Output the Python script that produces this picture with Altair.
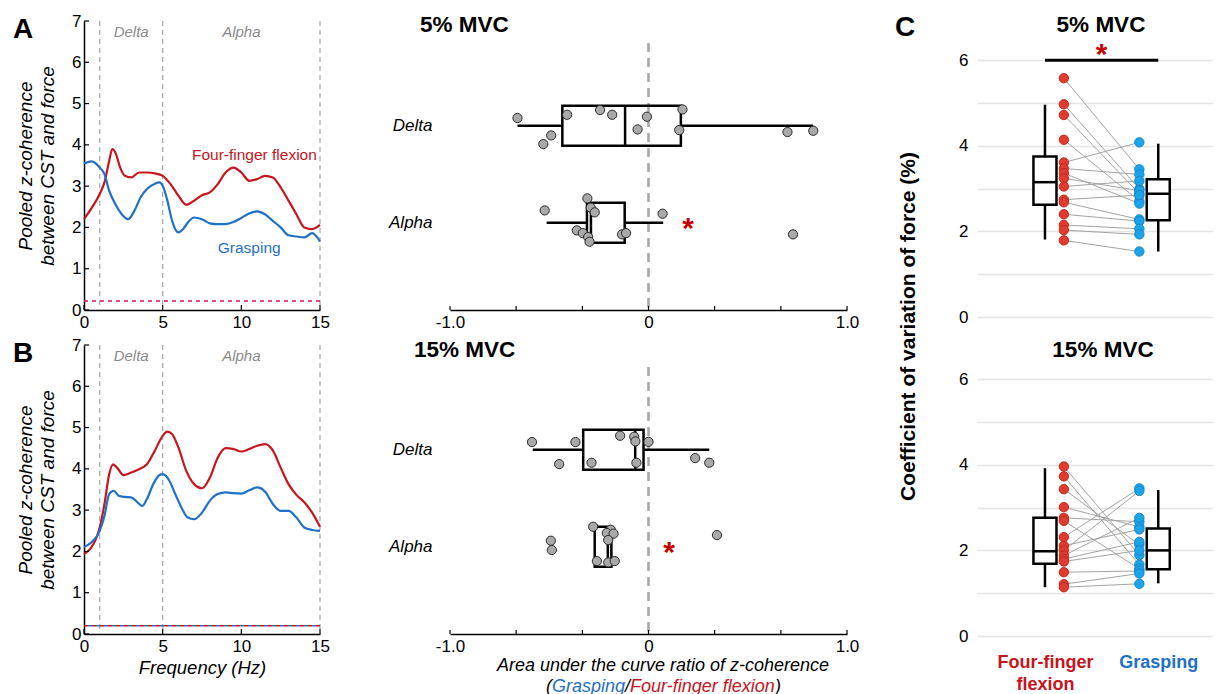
import altair as alt
import pandas as pd

FONT = "Liberation Sans"
RED = "#c8141c"
BLUE = "#1f70c8"
RED_TXT = "#c40000"
DOT_RED = "#e23b2e"
DOT_RED_EDGE = "#c0281f"
DOT_BLUE = "#1ba4ea"
DOT_BLUE_EDGE = "#1686cc"

# ---------------- Panel A (5% MVC) spectra ----------------
a_ff_freq = [0, 0.5, 1, 1.3, 1.6, 1.8, 2.0, 2.3, 2.6, 3.0, 3.5, 4.0, 4.5, 5.0, 5.5, 6.0, 6.5, 7.0, 7.5,
             8.0, 8.5, 9.0, 9.5, 10, 10.5, 11, 11.5, 12, 12.5, 13, 13.5, 14, 14.5, 15]
a_ff_coh = [2.20, 2.48, 2.81, 3.09, 3.61, 3.90, 3.81, 3.45, 3.25, 3.21, 3.33, 3.33, 3.31, 3.25, 3.05,
            2.77, 2.55, 2.65, 2.78, 2.85, 3.05, 3.33, 3.45, 3.33, 3.13, 3.17, 3.25, 3.21, 2.97, 2.65,
            2.32, 2.00, 1.96, 2.06]
a_gr_freq = [0, 0.5, 1.0, 1.3, 1.6, 2.0, 2.4, 2.8, 3.2, 3.6, 4.0, 4.5, 4.8, 5.0, 5.3, 5.6, 6.0, 6.3,
             6.6, 7.0, 7.5, 8.0, 8.5, 9.0, 9.5, 10, 10.5, 11, 11.5, 12, 12.5, 13, 13.5, 14, 14.5, 15]
a_gr_coh = [3.55, 3.60, 3.45, 3.29, 2.89, 2.56, 2.32, 2.20, 2.40, 2.73, 2.93, 3.06, 3.09, 3.01, 2.65,
            2.16, 1.88, 1.96, 2.12, 2.24, 2.20, 2.10, 2.08, 2.08, 2.13, 2.23, 2.34, 2.39, 2.32, 2.16,
            2.00, 1.81, 1.78, 1.76, 1.86, 1.66]

# ---------------- Panel B (15% MVC) spectra ----------------
b_ff_freq = [0, 0.4, 0.8, 1.0, 1.3, 1.6, 1.85, 2.1, 2.5, 3.0, 3.5, 4.0, 4.5, 5.0, 5.3, 5.6, 6.0, 6.5,
             7.0, 7.5, 8.0, 8.5, 9.0, 9.5, 10, 10.5, 11, 11.5, 12, 12.5, 13, 13.5, 14, 14.5, 15]
b_ff_coh = [1.94, 2.06, 2.34, 2.58, 3.15, 3.87, 4.11, 4.03, 3.85, 3.91, 3.99, 4.11, 4.44, 4.80, 4.90,
            4.84, 4.52, 3.95, 3.63, 3.53, 3.79, 4.27, 4.50, 4.48, 4.42, 4.48, 4.56, 4.60, 4.45, 4.03,
            3.63, 3.37, 3.19, 2.94, 2.60]
b_gr_freq = [0, 0.5, 1.0, 1.3, 1.6, 1.9, 2.2, 2.6, 3.0, 3.4, 3.7, 4.0, 4.4, 4.8, 5.0, 5.4, 5.8, 6.2,
             6.6, 7.0, 7.5, 8.0, 8.5, 9.0, 9.5, 10, 10.5, 11, 11.5, 12, 12.5, 13, 13.5, 14, 14.5, 15]
b_gr_coh = [2.11, 2.23, 2.50, 2.86, 3.39, 3.47, 3.35, 3.32, 3.31, 3.19, 3.10, 3.27, 3.63, 3.85, 3.87,
            3.73, 3.39, 3.06, 2.82, 2.78, 2.94, 3.23, 3.39, 3.43, 3.41, 3.40, 3.48, 3.55, 3.45, 3.15,
            2.98, 2.98, 2.82, 2.58, 2.52, 2.50]

spec_xticks = [0, 5, 10, 15]
spec_yticks = [0, 1, 2, 3, 4, 5, 6, 7]
band_edges = [1, 5, 15]
band_names = ["Delta", "Alpha"]
a_threshold = 0.22
b_threshold = 0.20

# ---------------- Middle: AUC ratio (Grasping / Four-finger flexion) ----------------
mid5_delta_x = [-0.66, -0.41, -0.244, -0.183, -0.008, 0.171, -0.055, 0.155, -0.49, -0.53, 0.70, 0.83]
mid5_delta_j = [0.079, 0.113, 0.162, 0.113, 0.093, 0.168, -0.038, -0.045, -0.100, -0.189, -0.065, -0.052]
mid5_alpha_x = [-0.308, -0.291, -0.271, -0.523, 0.071, -0.361, -0.331, -0.304, -0.297, -0.133, -0.113, 0.728]
mid5_alpha_j = [0.251, 0.155, 0.107, 0.127, 0.093, -0.079, -0.107, -0.148, -0.196, -0.120, -0.107, -0.120]
mid5_lo = [-0.66, -0.513]
mid5_q1 = [-0.434, -0.31]
mid5_med = [-0.118, -0.29]
mid5_q3 = [0.163, -0.12]
mid5_hi = [0.83, 0.074]
mid5_star = 0.20

mid15_delta_x = [-0.587, -0.368, -0.143, -0.072, -0.066, 0.0, -0.45, -0.287, -0.061, 0.235, 0.306]
mid15_delta_j = [0.079, 0.079, 0.144, 0.134, 0.086, 0.082, -0.148, -0.134, -0.134, -0.086, -0.134]
mid15_alpha_x = [-0.279, -0.190, -0.210, -0.176, -0.203, -0.492, -0.487, -0.260, -0.203, -0.170, 0.345]
mid15_alpha_j = [0.206, 0.175, 0.141, 0.134, 0.069, 0.062, -0.034, -0.148, -0.162, -0.148, 0.120]
mid15_lo = [-0.583, -0.271]
mid15_q1 = [-0.329, -0.271]
mid15_med = [-0.067, -0.205]
mid15_q3 = [-0.025, -0.187]
mid15_hi = [0.306, -0.187]
mid15_star = 0.104

mid_tick_values = [-1.0, -0.667, -0.333, 0.0, 0.333, 0.667, 1.0]
mid_label_values = [-1.0, 0.0, 1.0]
mid_label_texts = ["-1.0", "0", "1.0"]

# ---------------- Panel C: coefficient of variation of force ----------------
cv_tasks = ["Four-finger flexion", "Grasping"]
cv_label_lines = [["Four-finger", "flexion"], ["Grasping"]]
c5_ff = [5.58, 4.97, 4.72, 4.14, 3.61, 3.47, 3.36, 3.24, 3.05, 2.74, 2.68, 2.40, 2.15, 2.03, 1.79]
c5_gr = [3.45, 2.99, 2.88, 2.71, 4.08, 3.33, 2.65, 2.95, 3.18, 2.85, 2.28, 2.24, 2.06, 1.93, 1.53]
c5_ff_box = [1.81, 2.62, 3.15, 3.75, 4.96]   # whisker low, q1, median, q3, whisker high
c5_gr_box = [1.53, 2.26, 2.88, 3.22, 4.05]
c15_ff = [3.96, 3.73, 3.43, 3.01, 2.76, 2.69, 2.31, 2.11, 2.00, 1.88, 1.80, 1.74, 1.49, 1.21, 1.14]
c15_gr = [1.89, 1.67, 2.13, 2.55, 2.67, 1.57, 3.45, 2.49, 3.39, 2.76, 2.20, 2.00, 1.52, 1.46, 1.22]
c15_ff_box = [1.14, 1.69, 1.98, 2.76, 3.92]
c15_gr_box = [1.23, 1.56, 2.00, 2.51, 3.41]
cv_yticks = [0, 1, 2, 3, 4, 5, 6]
c5_sig_level = 6.0

DUMMY = pd.DataFrame({"t": [0]})


def text_at(txt, x, y, size, weight="normal", style="normal", color="black", align="left",
            baseline="alphabetic", angle=0):
    return alt.Chart(DUMMY).mark_text(
        text=txt, fontSize=size, fontWeight=weight, fontStyle=style, color=color,
        align=align, baseline=baseline, angle=angle
    ).encode(x=alt.value(x), y=alt.value(y))


def spectrum_panel(ff_f, ff_c, gr_f, gr_c, thresholds, letter, series_labels, xtitle):
    W, H = 236, 289
    xs = alt.Scale(domain=[0, 15], nice=False, zero=False)
    ys = alt.Scale(domain=[0, 7], nice=False, zero=False)
    xa = alt.Axis(values=spec_xticks, labelFontSize=17, labelPadding=4, ticks=False, grid=False,
                  domainColor="black", domainWidth=1.5, labelColor="black", labelFlush=False,
                  title=xtitle, titleFontSize=18.5, titleFontStyle="italic", titleFontWeight="normal",
                  titlePadding=4, titleColor="black")
    ya = alt.Axis(values=spec_yticks, labelFontSize=17, labelPadding=3, ticks=False, grid=False,
                  domainColor="black", domainWidth=1.5, labelColor="black", labelFlush=False,
                  title=["Pooled z-coherence", "between CST and force"], titleFontSize=19,
                  titleFontStyle="italic", titleFontWeight="normal", titlePadding=14,
                  titleLineHeight=22, titleColor="black")

    def X(f):
        return alt.X(f"{f}:Q", scale=xs, axis=xa)

    def Y(f):
        return alt.Y(f"{f}:Q", scale=ys, axis=ya)

    spec = pd.DataFrame({
        "freq": ff_f + gr_f,
        "coh": ff_c + gr_c,
        "task": [cv_tasks[0]] * len(ff_f) + [cv_tasks[1]] * len(gr_f),
    })
    layers = []
    layers.append(alt.Chart(pd.DataFrame({"edge": band_edges})).mark_rule(
        color="#a6a6a6", strokeDash=[5, 4], strokeWidth=1.2).encode(x=X("edge")))
    for val, col, off in thresholds:
        layers.append(alt.Chart(pd.DataFrame({"thr": [val]})).mark_rule(
            color=col, strokeDash=[4, 4], strokeDashOffset=off, strokeWidth=1.5).encode(y=Y("thr")))
    layers.append(alt.Chart(spec).mark_line(interpolate="monotone", strokeWidth=2.2).encode(
        x=X("freq"), y=Y("coh"),
        color=alt.Color("task:N", scale=alt.Scale(domain=cv_tasks, range=[RED, BLUE]), legend=None)))
    mids = [(band_edges[i] + band_edges[i + 1]) / 2 for i in range(len(band_names))]
    layers.append(alt.Chart(pd.DataFrame({"name": band_names, "mid": mids})).mark_text(
        fontStyle="italic", fontSize=15, color="#8a8a8a", baseline="alphabetic").encode(
        x=X("mid"), y=alt.value(16), text="name:N"))
    layers.append(alt.Chart(pd.DataFrame({"v": spec_yticks})).mark_rule(
        color="black", strokeWidth=1.2).encode(y=Y("v"), x=alt.value(0), x2=alt.value(5)))
    layers.append(alt.Chart(pd.DataFrame({"v": spec_xticks})).mark_rule(
        color="black", strokeWidth=1.2).encode(x=X("v"), y=alt.value(H - 5), y2=alt.value(H)))
    if series_labels:
        layers.append(alt.Chart(pd.DataFrame({"lx": [14.8], "ly": [3.76], "lab": [cv_tasks[0]]})).mark_text(
            fontSize=15.5, color=RED, align="right", baseline="middle").encode(
            x=X("lx"), y=Y("ly"), text="lab:N"))
        layers.append(alt.Chart(pd.DataFrame({"lx": [10.5], "ly": [1.5], "lab": [cv_tasks[1]]})).mark_text(
            fontSize=15.5, color=BLUE, align="center", baseline="middle").encode(
            x=X("lx"), y=Y("ly"), text="lab:N"))
    layers.append(text_at(letter, -71, 17, 28, weight="bold"))
    return alt.layer(*layers).properties(width=W, height=H)


def ratio_panel(d_x, d_j, a_x, a_j, lo, q1, med, q3, hi, star_x, title_text, title_x, title_y, xtitle):
    W, H = 397, 289
    BOX_HALF = 0.206
    xs = alt.Scale(domain=[-1, 1], nice=False, zero=False)
    ys = alt.Scale(domain=[0.1, 3.08], nice=False, zero=False)
    expr = "'" + mid_label_texts[-1] + "'"
    for v, t in zip(mid_label_values[:-1][::-1], mid_label_texts[:-1][::-1]):
        expr = f"abs(datum.value - ({v})) < 0.01 ? '{t}' : ({expr})"
    xa = alt.Axis(values=mid_label_values, labelExpr=expr, labelFontSize=17, labelPadding=4,
                  ticks=False, grid=False, domainColor="black", domainWidth=1.5,
                  labelColor="black", labelFlush=False, title=None)
    ya = alt.Axis(values=[1, 2], labelExpr="datum.value > 1.5 ? 'Delta' : 'Alpha'",
                  labelFontSize=17, labelFontStyle="italic", labelPadding=18, labelColor="black",
                  domain=False, ticks=False, grid=False, title=None)

    def X(f):
        return alt.X(f"{f}:Q", scale=xs, axis=xa)

    def Y(f):
        return alt.Y(f"{f}:Q", scale=ys, axis=ya)

    pos_expr = "datum.band == 'Delta' ? 2 : 1"
    pts = pd.DataFrame({
        "band": ["Delta"] * len(d_x) + ["Alpha"] * len(a_x),
        "ratio": d_x + a_x,
        "jit": d_j + a_j,
    })
    box = pd.DataFrame({"band": ["Delta", "Alpha"], "lo": lo, "q1": q1, "med": med, "q3": q3, "hi": hi})

    def boxbase():
        return alt.Chart(box).transform_calculate(
            pos=pos_expr, ylo=f"datum.pos - {BOX_HALF}", yhi=f"datum.pos + {BOX_HALF}")

    layers = [
        alt.Chart(pd.DataFrame({"z": [0.0]})).mark_rule(
            color="#a8a8a8", strokeDash=[9, 6], strokeWidth=2.6).encode(
            x=X("z"), y=alt.value(22), y2=alt.value(H)),
        alt.Chart(pd.DataFrame({"v": mid_tick_values})).mark_rule(color="black", strokeWidth=1.2).encode(
            x=X("v"), y=alt.value(H - 4), y2=alt.value(H)),
        boxbase().mark_rule(color="black", strokeWidth=2.5).encode(x=X("lo"), x2=alt.X2("q1"), y=Y("pos")),
        boxbase().mark_rule(color="black", strokeWidth=2.5).encode(x=X("q3"), x2=alt.X2("hi"), y=Y("pos")),
        boxbase().mark_rect(fill="white", fillOpacity=0, stroke="black", strokeWidth=2.5).encode(
            x=X("q1"), x2=alt.X2("q3"), y=Y("ylo"), y2=alt.Y2("yhi")),
        boxbase().mark_rule(color="black", strokeWidth=2.5).encode(x=X("med"), y=Y("ylo"), y2=alt.Y2("yhi")),
        alt.Chart(pts).transform_calculate(pos=pos_expr, yy="datum.pos + datum.jit").mark_circle(
            size=85, color="#a9a9a9", stroke="#2b2b2b", strokeWidth=1, opacity=1).encode(
            x=X("ratio"), y=Y("yy")),
        alt.Chart(pd.DataFrame({"sx": [star_x], "band": ["Alpha"]})).transform_calculate(pos=pos_expr).mark_text(
            text="*", fontSize=30, fontWeight="bold", color=RED_TXT, baseline="alphabetic", dy=15).encode(
            x=X("sx"), y=Y("pos")),
        text_at(title_text, title_x, title_y, 22.5, weight="bold"),
    ]
    if xtitle:
        layers.append(text_at("Area under the curve ratio of z-coherence", 213, 321, 18,
                              style="italic", align="center", baseline="middle"))
        pieces = [("(", 96, "black"), ("Grasping", 102, BLUE), ("/", 175, "black"),
                  ("Four-finger flexion", 180, RED), (")", 325, "black")]
        for t, px, col in pieces:
            layers.append(text_at(t, px, 342, 18, style="italic", color=col, baseline="middle"))
    return alt.layer(*layers).properties(width=W, height=H)


def cv_panel(ff, gr, ff_box, gr_box, H, ytop, title_text, title_x, title_y, show_xlabels,
             sig_level, letter, ytitle):
    W = 236
    BOX_OFF = 0.1
    BOX_HALF_W = 0.122
    xs = alt.Scale(domain=[-0.82, 1.68], nice=False, zero=False)
    ys = alt.Scale(domain=[0, ytop], nice=False, zero=False)
    if show_xlabels:
        l0 = "[" + ", ".join(f"'{s}'" for s in cv_label_lines[0]) + "]"
        l1 = "[" + ", ".join(f"'{s}'" for s in cv_label_lines[1]) + "]"
        xa = alt.Axis(values=[0 - BOX_OFF, 1 + BOX_OFF], labelExpr=f"datum.value < 0.5 ? {l0} : {l1}",
                      labelColor={"condition": {"test": "datum.value < 0.5", "value": RED}, "value": BLUE},
                      labelFontWeight="bold", labelFontSize=18, labelLineHeight=22, labelPadding=17,
                      labelBaseline="top", domain=False, ticks=False, grid=False, title=None)
    else:
        xa = None
    yargs = dict(values=cv_yticks, labelExpr="datum.value % 2 == 0 ? datum.label : ''",
                 grid=True, gridColor="#e4e4e4", gridWidth=1.5, domain=False, ticks=False,
                 labelFontSize=17, labelPadding=9, labelColor="black", labelFlush=False)
    if ytitle:
        yargs.update(title=ytitle, titleFontSize=21, titleFontWeight="bold", titleColor="black",
                     titleX=-69, titleY=305, titleAngle=270, titleAlign="center", titleBaseline="middle")
    else:
        yargs.update(title=None)
    ya = alt.Axis(**yargs)

    def X(f):
        return alt.X(f"{f}:Q", scale=xs, axis=xa)

    def Y(f):
        return alt.Y(f"{f}:Q", scale=ys, axis=ya)

    box = pd.DataFrame({
        "task": cv_tasks, "idx": [0, 1],
        "lo": [ff_box[0], gr_box[0]], "q1": [ff_box[1], gr_box[1]], "med": [ff_box[2], gr_box[2]],
        "q3": [ff_box[3], gr_box[3]], "hi": [ff_box[4], gr_box[4]],
    })

    def boxbase():
        return alt.Chart(box).transform_calculate(
            bx=f"datum.idx + (datum.idx == 0 ? -{BOX_OFF} : {BOX_OFF})"
        ).transform_calculate(bl=f"datum.bx - {BOX_HALF_W}", br=f"datum.bx + {BOX_HALF_W}")

    pairs = pd.DataFrame({"ff": ff, "gr": gr})
    dots = pd.DataFrame({
        "group": [cv_tasks[0]] * len(ff) + [cv_tasks[1]] * len(gr),
        "idx": [0] * len(ff) + [1] * len(gr),
        "val": ff + gr,
    })
    layers = [
        boxbase().mark_rule(color="black", strokeWidth=2.5).encode(x=X("bx"), y=Y("lo"), y2=alt.Y2("q1")),
        boxbase().mark_rule(color="black", strokeWidth=2.5).encode(x=X("bx"), y=Y("q3"), y2=alt.Y2("hi")),
        boxbase().mark_rect(fill="white", stroke="black", strokeWidth=2.5).encode(
            x=X("bl"), x2=alt.X2("br"), y=Y("q1"), y2=alt.Y2("q3")),
        boxbase().mark_rule(color="black", strokeWidth=2.5).encode(x=X("bl"), x2=alt.X2("br"), y=Y("med")),
        alt.Chart(pairs).transform_calculate(xa=f"0 + {BOX_OFF}", xb=f"1 - {BOX_OFF}").mark_rule(
            color="#a3a3a3", strokeWidth=1).encode(x=X("xa"), x2=alt.X2("xb"), y=Y("ff"), y2=alt.Y2("gr")),
        alt.Chart(dots).transform_calculate(
            dx=f"datum.idx + (datum.idx == 0 ? {BOX_OFF} : -{BOX_OFF})").mark_circle(
            size=88, opacity=1, strokeWidth=1).encode(
            x=X("dx"), y=Y("val"),
            fill=alt.Fill("group:N", scale=alt.Scale(domain=cv_tasks, range=[DOT_RED, DOT_BLUE]), legend=None),
            stroke=alt.Stroke("group:N", scale=alt.Scale(domain=cv_tasks, range=[DOT_RED_EDGE, DOT_BLUE_EDGE]),
                              legend=None)),
        text_at(title_text, title_x, title_y, 22.5, weight="bold", align="center"),
    ]
    if sig_level is not None:
        sig = pd.DataFrame({"a": [0 - BOX_OFF], "b": [1 + BOX_OFF], "s": [sig_level]})
        layers.append(alt.Chart(sig).mark_rule(color="black", strokeWidth=3).encode(
            x=X("a"), x2=alt.X2("b"), y=Y("s")))
        layers.append(alt.Chart(sig).transform_calculate(m="(datum.a + datum.b) / 2").mark_text(
            text="*", fontSize=30, fontWeight="bold", color=RED_TXT, baseline="alphabetic", dy=4).encode(
            x=X("m"), y=Y("s")))
    if letter:
        layers.append(text_at(letter, -82, 15, 28, weight="bold"))
    return alt.layer(*layers).properties(width=W, height=H)


panel_a = spectrum_panel(a_ff_freq, a_ff_coh, a_gr_freq, a_gr_coh,
                         [(a_threshold, "#c8164a", 0)], "A", True, None)
panel_b = spectrum_panel(b_ff_freq, b_ff_coh, b_gr_freq, b_gr_coh,
                         [(b_threshold, RED, 0), (b_threshold, BLUE, 4)], "B", False, "Frequency (Hz)")
mid5 = ratio_panel(mid5_delta_x, mid5_delta_j, mid5_alpha_x, mid5_alpha_j,
                   mid5_lo, mid5_q1, mid5_med, mid5_q3, mid5_hi, mid5_star, "5% MVC", -30, 10.7, False)
mid15 = ratio_panel(mid15_delta_x, mid15_delta_j, mid15_alpha_x, mid15_alpha_j,
                    mid15_lo, mid15_q1, mid15_med, mid15_q3, mid15_hi, mid15_star, "15% MVC", -36, 12, True)
c5 = cv_panel(c5_ff, c5_gr, c5_ff_box, c5_gr_box, 296, 296 / 42.8, "5% MVC", 124, 10.7, False,
              c5_sig_level, "C", "Coefficient of variation of force (%)")
c15 = cv_panel(c15_ff, c15_gr, c15_ff_box, c15_gr_box, 291, 291 / 42.8, "15% MVC", 126, 12, True,
               None, None, None)

chart = alt.concat(
    panel_a, mid5, c5, panel_b, mid15, c15,
    columns=3, spacing={"row": 28, "column": 130}, bounds="flush", align="each"
).resolve_scale(
    color="independent", fill="independent", stroke="independent"
).properties(
    padding={"left": 5, "top": 4, "right": 0, "bottom": 0}
).configure(font=FONT).configure_view(stroke=None)

chart.save("out.html", embed_options={"renderer": "svg", "actions": False})
